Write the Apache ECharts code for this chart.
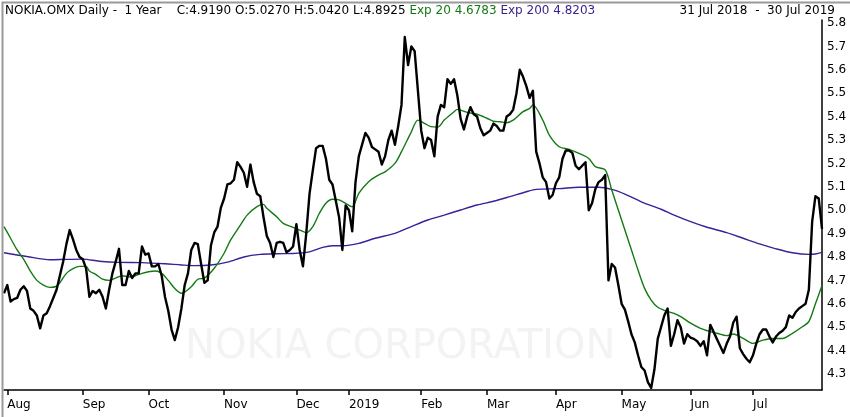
<!DOCTYPE html>
<html>
<head>
<meta charset="utf-8">
<script src="https://cdn.jsdelivr.net/npm/echarts@6/dist/echarts.min.js"></script>
<style>
  html, body { margin: 0; padding: 0; background: #fff; }
  #chart { width: 850px; height: 417px; }
</style>
</head>
<body>
<div id="chart"></div>
<script>
// daily close, 31 Jul 2018 .. 30 Jul 2019 (one value per trading day)
var prices = [
    4.645, 4.68, 4.61, 4.62, 4.625, 4.66, 4.675, 4.655, 4.58, 4.57,
    4.55, 4.495, 4.55, 4.56, 4.59, 4.625, 4.66, 4.72, 4.78, 4.855,
    4.915, 4.875, 4.83, 4.80, 4.79, 4.75, 4.63, 4.655, 4.645, 4.66,
    4.63, 4.58, 4.66, 4.73, 4.78, 4.835, 4.68, 4.68, 4.74, 4.71,
    4.73, 4.73, 4.845, 4.81, 4.815, 4.76, 4.76, 4.77, 4.72, 4.63,
    4.57, 4.49, 4.445, 4.50, 4.58, 4.68, 4.73, 4.83, 4.86, 4.855,
    4.77, 4.69, 4.70, 4.85, 4.905, 4.93, 5.01, 5.05, 5.11, 5.115,
    5.13, 5.205, 5.185, 5.16, 5.10, 5.195, 5.12, 5.07, 5.06, 4.97,
    4.89, 4.86, 4.80, 4.86, 4.865, 4.86, 4.82, 4.83, 4.845, 4.94,
    4.83, 4.76, 4.90, 5.07, 5.17, 5.265, 5.275, 5.275, 5.22, 5.13,
    5.11, 5.04, 4.97, 4.83, 5.02, 5.00, 4.91, 5.12, 5.23, 5.28,
    5.33, 5.31, 5.27, 5.26, 5.25, 5.195, 5.23, 5.30, 5.34, 5.28,
    5.36, 5.45, 5.74, 5.62, 5.70, 5.68, 5.51, 5.34, 5.265, 5.31,
    5.30, 5.23, 5.40, 5.45, 5.44, 5.56, 5.54, 5.56, 5.49, 5.39,
    5.345, 5.40, 5.44, 5.41, 5.40, 5.35, 5.32, 5.33, 5.34, 5.37,
    5.36, 5.34, 5.34, 5.40, 5.41, 5.43, 5.50, 5.60, 5.57, 5.53,
    5.48, 5.51, 5.25, 5.20, 5.14, 5.12, 5.05, 5.065, 5.115, 5.14,
    5.22, 5.255, 5.255, 5.245, 5.19, 5.175, 5.19, 5.205, 5.00, 5.03,
    5.09, 5.12, 5.13, 5.15, 4.70, 4.77, 4.755, 4.68, 4.60, 4.575,
    4.525, 4.47, 4.435, 4.38, 4.33, 4.315, 4.265, 4.24, 4.32, 4.45,
    4.50, 4.55, 4.58, 4.42, 4.47, 4.53, 4.50, 4.43, 4.47, 4.455,
    4.45, 4.44, 4.42, 4.44, 4.38, 4.51, 4.48, 4.45, 4.42, 4.39,
    4.43, 4.46, 4.52, 4.545, 4.41, 4.385, 4.365, 4.35, 4.38, 4.43,
    4.47, 4.49, 4.49, 4.46, 4.435, 4.46, 4.475, 4.485, 4.50, 4.55,
    4.54, 4.565, 4.58, 4.59, 4.60, 4.66, 4.95, 5.06, 5.05, 4.92
];

// moving averages: [trading day index, value]
var exp20 = [
    [0,4.93],[2,4.88],[4,4.83],[6,4.79],[8,4.74],[10,4.70],[12,4.68],[14,4.67],[16,4.675],[17,4.69],
    [19,4.73],[21,4.75],[23,4.76],[25,4.76],[26,4.74],[28,4.725],[30,4.705],[32,4.70],[34,4.71],[36,4.72],
    [38,4.715],[40,4.72],[42,4.73],[44,4.737],[46,4.74],[48,4.73],[50,4.70],[52,4.665],[54,4.645],[57,4.673],
    [59,4.705],[61,4.71],[64,4.752],[67,4.816],[69,4.873],[72,4.937],[74,4.979],[77,5.015],[79,5.025],[80,5.008],
    [83,4.972],[85,4.944],[88,4.927],[90,4.915],[92,4.904],[94,4.93],[96,4.987],[98,5.03],[100,5.047],[102,5.044],
    [104,5.029],[106,5.015],[108,5.072],[111,5.122],[114,5.15],[116,5.164],[119,5.20],[121,5.25],[124,5.335],[126,5.385],
    [128,5.371],[130,5.357],[132,5.355],[134,5.385],[137,5.421],[138,5.431],[141,5.418],[144,5.41],[147,5.393],[149,5.38],
    [151,5.378],[153,5.374],[155,5.385],[158,5.421],[160,5.435],[161,5.45],[164,5.385],[166,5.321],[169,5.271],[172,5.26],
    [175,5.243],[178,5.221],[180,5.186],[183,5.172],[185,5.086],[187,5.001],[189,4.915],[191,4.83],[193,4.744],[195,4.666],
    [197,4.616],[199,4.585],[201,4.572],[204,4.559],[206,4.545],[209,4.517],[212,4.495],[215,4.481],[217,4.474],[220,4.464],
    [222,4.471],[225,4.452],[228,4.431],[231,4.445],[234,4.452],[237,4.452],[240,4.474],[243,4.502],[245,4.524],[247,4.60],
    [249,4.678]
];
var exp200 = [
    [0,4.818],[7,4.802],[14,4.788],[19,4.79],[24,4.791],[29,4.782],[35,4.777],[42,4.776],[49,4.771],[54,4.766],
    [58,4.763],[63,4.766],[68,4.778],[73,4.80],[78,4.811],[83,4.814],[88,4.815],[93,4.822],[97,4.841],[100,4.848],
    [103,4.848],[108,4.858],[113,4.88],[119,4.901],[124,4.93],[129,4.958],[134,4.979],[139,5.001],[144,5.022],[149,5.038],
    [154,5.058],[159,5.079],[162,5.089],[169,5.092],[175,5.098],[181,5.098],[185,5.089],[189,5.069],[194,5.036],[200,5.004],
    [204,4.979],[209,4.951],[214,4.927],[220,4.904],[225,4.88],[230,4.856],[235,4.835],[240,4.818],[245,4.811],[247,4.813],
    [249,4.82]
];

var yTicks = [4.3, 4.4, 4.5, 4.6, 4.7, 4.8, 4.9, 5.0, 5.1, 5.2, 5.3, 5.4, 5.5, 5.6, 5.7, 5.8];
var monthLabels = ['Aug', 'Sep', 'Oct', 'Nov', 'Dec', '2019', 'Feb', 'Mar', 'Apr', 'May', 'Jun', 'Jul'];
var monthStart = [1, 24, 44, 67, 89, 105, 127, 147, 168, 188, 209, 228];

// Helsinki trading days (weekdays minus exchange holidays)
var holidays = ['2018-12-06','2018-12-24','2018-12-25','2018-12-26','2018-12-31','2019-01-01',
    '2019-04-19','2019-04-22','2019-05-01','2019-05-30','2019-06-21'];
var dates = [];
var d = new Date(Date.UTC(2018, 6, 31));
var end = new Date(Date.UTC(2019, 6, 30));
while (d <= end) {
    var s = d.toISOString().slice(0, 10);
    if (d.getUTCDay() !== 0 && d.getUTCDay() !== 6 && holidays.indexOf(s) < 0) dates.push(s);
    d.setUTCDate(d.getUTCDate() + 1);
}

var font = 'DejaVu Sans';
var myChart = echarts.init(document.getElementById('chart'));

var option = {
    animation: false,
    backgroundColor: '#fff',
    textStyle: { fontFamily: font },
    graphic: [
        {
            type: 'text', left: 185, top: 328, z: 0, silent: true,
            style: { text: 'NOKIA CORPORATION', fill: '#f3f3f3', font: '40px ' + font }
        },
        {
            type: 'rect', left: 0, top: 0, z: 100, silent: true,
            shape: { width: 849, height: 416 },
            style: { fill: 'none', stroke: '#9a9a9a', lineWidth: 2 }
        },
        {
            type: 'text', left: 5, top: 5,
            style: {
                text: '{k|NOKIA.OMX Daily -  1 Year    C:4.9190 O:5.0270 H:5.0420 L:4.8925 }{g|Exp 20 4.6783 }{p|Exp 200 4.8203}',
                font: '12px ' + font,
                rich: {
                    k: { fill: '#000', fontSize: 12, fontFamily: font },
                    g: { fill: '#137a13', fontSize: 12, fontFamily: font },
                    p: { fill: '#3b1e8e', fontSize: 12, fontFamily: font }
                }
            }
        },
        {
            type: 'text', right: 15, top: 5,
            style: { text: '31 Jul 2018  -  30 Jul 2019', fill: '#000', font: '12px ' + font }
        }
    ],
    grid: {
        left: 4,
        right: 28,
        top: 20,
        bottom: 27
    },
    xAxis: {
        type: 'category',
        data: dates,
        boundaryGap: false,
        axisLine: { lineStyle: { color: '#000', width: 1.5 } },
        axisTick: {
            length: 5,
            lineStyle: { color: '#000', width: 1.5 },
            interval: function (idx) { return monthStart.indexOf(idx) >= 0; }
        },
        axisLabel: {
            color: '#000',
            fontSize: 12,
            align: 'left',
            margin: 9,
            interval: function (idx) { return monthStart.indexOf(idx) >= 0; },
            formatter: function (val, idx) {
                var k = monthStart.indexOf(idx);
                return k >= 0 ? monthLabels[k] : '';
            }
        },
        splitLine: { show: false }
    },
    yAxis: {
        type: 'value',
        position: 'right',
        min: 4.2316,
        max: 5.8128,
        axisLine: { show: true, lineStyle: { color: '#000', width: 1.5 } },
        axisTick: { show: false },
        splitLine: { show: false },
        axisLabel: {
            color: '#000',
            fontSize: 12,
            margin: 5,
            customValues: yTicks,
            formatter: function (v) { return v.toFixed(1); }
        }
    },
    series: [
        {
            name: 'Exp 200',
            type: 'line',
            data: exp200,
            symbol: 'none',
            smooth: 0.3,
            z: 3,
            lineStyle: { color: '#3d1f99', width: 1.4 }
        },
        {
            name: 'Exp 20',
            type: 'line',
            data: exp20,
            symbol: 'none',
            smooth: 0.3,
            z: 4,
            lineStyle: { color: '#137a13', width: 1.4 }
        },
        {
            name: 'NOKIA.OMX',
            type: 'line',
            data: prices,
            symbol: 'none',
            z: 5,
            lineStyle: { color: '#000', width: 2.4, join: 'round' }
        }
    ]
};
myChart.setOption(option);
</script>
</body>
</html>
